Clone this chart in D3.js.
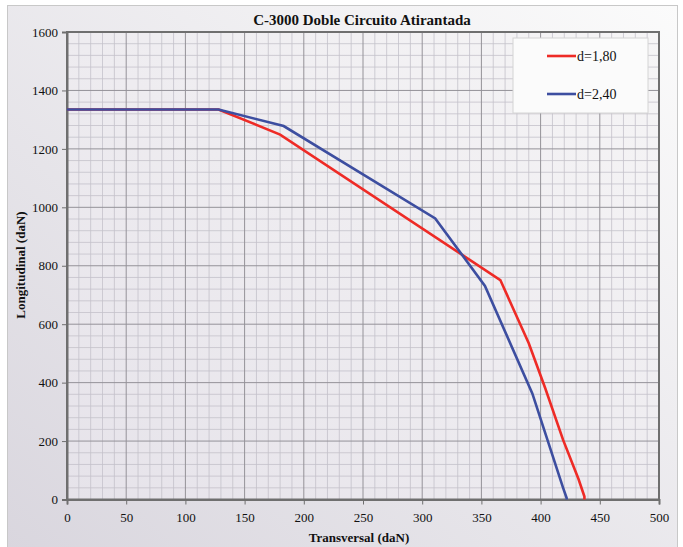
<!DOCTYPE html>
<html>
<head>
<meta charset="utf-8">
<script src="https://cdn.jsdelivr.net/npm/d3@7"></script>
<style>
  body { margin: 0; background: #fff; }
  svg { display: block; }
  text { font-family: "Liberation Serif", "DejaVu Serif", serif; fill: #111; }
</style>
</head>
<body>
<svg id="chart" width="683" height="547"></svg>
<script>
// data
var title = 'C-3000 Doble Circuito Atirantada'
var xLabel = 'Transversal (daN)'
var yLabel = 'Longitudinal (daN)'
var seriesNames = ['d=1,80', 'd=2,40']
var seriesColors = ['#ee2b26', '#3d4ea0']
var redX = [0, 128, 180, 366, 390, 404, 419, 432, 437, 437]
var redY = [1335, 1335, 1249, 751, 535, 380, 204, 70, 10, 0]
var blueX = [0, 128, 183, 311, 353, 393, 419, 422, 422]
var blueY = [1335, 1335, 1278, 962, 731, 363, 40, 5, 0]
var xTicks = [0, 50, 100, 150, 200, 250, 300, 350, 400, 450, 500]
var yTicks = [0, 200, 400, 600, 800, 1000, 1200, 1400, 1600]

var svg = d3.select('#chart')
var m = {left: 67, right: 659, top: 32, bottom: 499.5}
var serif = '"Liberation Serif", "Times New Roman", serif'

var defs = svg.append('defs')
var g1 = defs.append('linearGradient').attr('id', 'bg')
    .attr('x1', '100%').attr('y1', '0%').attr('x2', '0%').attr('y2', '100%')
g1.append('stop').attr('offset', '0%').attr('stop-color', '#fbfbfb')
g1.append('stop').attr('offset', '100%').attr('stop-color', '#d9d6de')
var g2 = defs.append('linearGradient').attr('id', 'plotbg')
    .attr('x1', '100%').attr('y1', '0%').attr('x2', '0%').attr('y2', '100%')
g2.append('stop').attr('offset', '0%').attr('stop-color', '#f6f5f6')
g2.append('stop').attr('offset', '100%').attr('stop-color', '#e6e3ea')

// outer frame
svg.append('rect').attr('x', 7.5).attr('y', 5.5).attr('width', 670).attr('height', 545)
    .attr('fill', 'url(#bg)').attr('stroke', '#c8c8c8').attr('stroke-width', 1)

var x = d3.scaleLinear().domain([0, 500]).range([m.left, m.right])
var y = d3.scaleLinear().domain([0, 1600]).range([m.bottom, m.top])

svg.append('rect').attr('x', m.left).attr('y', m.top)
    .attr('width', m.right - m.left).attr('height', m.bottom - m.top)
    .attr('fill', 'url(#plotbg)')

// minor grid
var grid = svg.append('g')
grid.selectAll('.vx').data(d3.range(10, 500, 10).filter(d => d % 50 !== 0))
  .enter().append('line')
    .attr('x1', d => x(d)).attr('x2', d => x(d))
    .attr('y1', m.top).attr('y2', m.bottom)
    .attr('stroke', '#c4c1ca').attr('stroke-width', 0.8)
grid.selectAll('.hy').data(d3.range(40, 1600, 40).filter(d => d % 200 !== 0))
  .enter().append('line')
    .attr('y1', d => y(d)).attr('y2', d => y(d))
    .attr('x1', m.left).attr('x2', m.right)
    .attr('stroke', '#c4c1ca').attr('stroke-width', 0.8)
// major grid
grid.selectAll('.vX').data(xTicks.slice(1, -1))
  .enter().append('line')
    .attr('x1', d => x(d)).attr('x2', d => x(d))
    .attr('y1', m.top).attr('y2', m.bottom)
    .attr('stroke', '#949298').attr('stroke-width', 1)
grid.selectAll('.hY').data(yTicks.slice(1, -1))
  .enter().append('line')
    .attr('y1', d => y(d)).attr('y2', d => y(d))
    .attr('x1', m.left).attr('x2', m.right)
    .attr('stroke', '#949298').attr('stroke-width', 1)

// plot border
svg.append('rect').attr('x', m.left).attr('y', m.top)
    .attr('width', m.right - m.left).attr('height', m.bottom - m.top)
    .attr('fill', 'none').attr('stroke', '#6f6f6f').attr('stroke-width', 2)

// axes
var xAxis = svg.append('g').attr('transform', `translate(0,${m.bottom})`)
    .call(d3.axisBottom(x).tickValues(xTicks).tickFormat(d3.format('d')).tickSize(5).tickPadding(8))
var yAxis = svg.append('g').attr('transform', `translate(${m.left},0)`)
    .call(d3.axisLeft(y).tickValues(yTicks).tickFormat(d3.format('d')).tickSize(5).tickPadding(4))
;[xAxis, yAxis].forEach(a => {
  a.attr('font-family', serif).attr('font-size', 13)
  a.select('.domain').attr('stroke', '#6f6f6f').attr('stroke-width', 2)
  a.selectAll('.tick line').attr('stroke', '#6f6f6f')
  a.selectAll('text').attr('fill', '#111')
})

// lines
var line = d3.line().x(d => x(d[0])).y(d => y(d[1]))
var red = redX.map((v, i) => [v, redY[i]])
var blue = blueX.map((v, i) => [v, blueY[i]])
svg.append('path').datum(red).attr('d', line)
    .attr('fill', 'none').attr('stroke', seriesColors[0]).attr('stroke-width', 2.6)
svg.append('path').datum(blue).attr('d', line)
    .attr('fill', 'none').attr('stroke', seriesColors[1]).attr('stroke-width', 2.6)

// title and labels
svg.append('text').attr('x', 362).attr('y', 25).attr('text-anchor', 'middle')
    .attr('font-family', serif).style('font-size', '15px').style('font-weight', 'bold').text(title)
svg.append('text').attr('x', 359).attr('y', 542).attr('text-anchor', 'middle')
    .attr('font-family', serif).style('font-size', '13px').style('font-weight', 'bold').text(xLabel)
svg.append('text').attr('transform', 'translate(25,265) rotate(-90)')
    .attr('text-anchor', 'middle').attr('font-family', serif)
    .style('font-size', '13px').style('font-weight', 'bold').text(yLabel)

// legend
var lg = svg.append('g')
lg.append('rect').attr('x', 513).attr('y', 38).attr('width', 135).attr('height', 75)
    .attr('fill', '#fbfbfb').attr('stroke', '#d4d4d4').attr('stroke-width', 1)
seriesNames.forEach((n, i) => {
  var ly = 56 + i * 38
  lg.append('line').attr('x1', 547).attr('x2', 576).attr('y1', ly).attr('y2', ly)
      .attr('stroke', seriesColors[i]).attr('stroke-width', 2.6)
  lg.append('text').attr('x', 577).attr('y', ly + 5).attr('font-family', serif)
      .style('font-size', '14px').text(n)
})
</script>
</body>
</html>
